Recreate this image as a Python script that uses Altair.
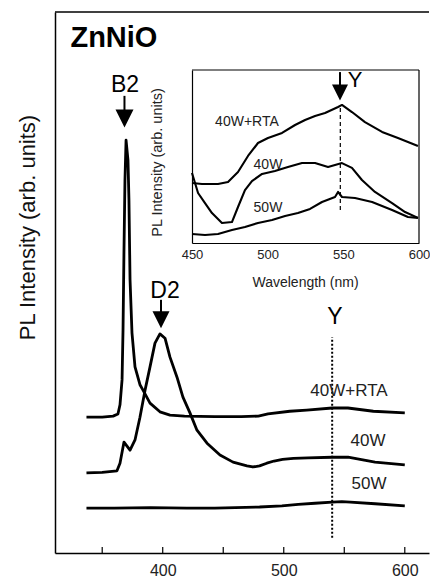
import altair as alt
import pandas as pd

FONT = "Liberation Sans"

# ---------------- main panel data ----------------
rta_wl = [337, 350, 359, 363, 364.7, 366.4, 367.2, 368.0, 368.8, 369.7, 371.3, 372.1, 373.0, 374.6,
          377.1, 381.2, 383.7, 389.5, 397.7, 406, 418, 443, 465, 479, 487, 505, 519, 540, 553, 574, 600]
rta_v = [25.1, 25.1, 25.3, 25.7, 27.4, 32.0, 41.2, 56.0, 68.9, 76.3, 72.6, 65.2, 50.5, 40.7,
         34.4, 31.1, 30.1, 27.7, 26.1, 25.5, 25.3, 25.2, 25.2, 25.3, 25.7, 26.2, 26.4, 26.8, 26.8, 26.2, 25.9]

w40_wl = [337, 350, 362.2, 364.7, 368.0, 373.0, 377.1, 381.2, 385.4, 389.5, 393.6, 397.7, 401.9,
          406.0, 411.8, 416.7, 422.5, 428.3, 436.6, 447.3, 458.1, 469.6, 474.5, 480, 486, 492, 499,
          508, 520.0, 539.9, 553.1, 575.4, 600]
w40_v = [14.8, 14.9, 15.2, 16.6, 20.5, 19.0, 20.9, 25.1, 30.1, 34.4, 38.8, 40.5, 39.7,
         36.2, 32.5, 28.8, 25.9, 22.7, 20.3, 18.1, 16.8, 16.1, 15.9, 16.1, 16.6, 17.0, 17.3,
         17.5, 17.6, 17.7, 17.7, 16.8, 16.3]

w50_wl = [337, 360, 390, 420, 443, 480, 498.5, 512, 525.8, 540, 548, 555, 575.4, 600]
w50_v = [8.3, 8.3, 8.4, 8.3, 8.3, 8.5, 8.7, 9.0, 9.2, 9.4, 9.5, 9.4, 9.1, 8.7]

main_ticks = [350, 400, 450, 500, 550, 600]
main_labels = [400, 500, 600]

# ---------------- inset data ----------------
in_rta_wl = [450, 456.6, 467.2, 473.8, 480.4, 487.0, 493.6, 500.2, 509.5, 518.1, 524.7, 531.3,
             537.9, 546.5, 549.1, 555.7, 564.3, 575.6, 586.1, 599.3]
in_rta_v = [34.7, 34.1, 34.1, 35.3, 41.0, 50.3, 57.8, 60.7, 63.6, 68.2, 71.1, 73.4,
            75.1, 78.6, 79.8, 75.7, 69.9, 64.2, 60.7, 56.1]

in_40_wl = [450, 454.0, 458.6, 463.2, 469.8, 476.4, 480.4, 485.0, 489.6, 496.3, 504.8, 513.4,
            522.7, 531.3, 539.9, 549.1, 555.7, 562.3, 570.9, 582.2, 590.8, 599.3]
in_40_v = [40.5, 28.9, 23.1, 17.3, 11.6, 12.1, 20.8, 30.6, 35.8, 39.9, 41.6, 43.9,
           46.2, 46.2, 43.9, 46.2, 43.4, 36.4, 29.5, 23.1, 17.9, 14.5]

in_50_wl = [450, 458.6, 467.2, 476.4, 485.0, 493.6, 502.9, 511.5, 520.0, 528.0, 535.9, 544.5,
            546.5, 549.1, 557.7, 569.0, 582.2, 592.7, 599.3]
in_50_v = [5.2, 4.6, 5.2, 7.5, 9.2, 11.6, 13.3, 15.6, 17.3, 19.7, 23.7, 26.6,
           29.5, 26.6, 26.0, 23.7, 19.1, 15.0, 14.5]

in_ticks = [450, 500, 550, 600]

series_names = ["40W+RTA", "40W", "50W"]

# ---------------- tables ----------------
def long(wls, vals):
    rows = []
    for name, w, v in zip(series_names, wls, vals):
        rows += [{"series": name, "wl": a, "v": b} for a, b in zip(w, v)]
    return pd.DataFrame(rows)

main_df = long([rta_wl, w40_wl, w50_wl], [rta_v, w40_v, w50_v])
inset_df = long([in_rta_wl, in_40_wl, in_50_wl], [in_rta_v, in_40_v, in_50_v])

W, H = 374, 541

def xs():
    return alt.Scale(domain=[311, 620], nice=False, zero=False)

def ys():
    return alt.Scale(domain=[0, 100], nice=False, zero=False)

def xi():
    return alt.Scale(domain=[450, 600], range=[137, 364], nice=False, zero=False)

def yi():
    return alt.Scale(domain=[0, 100], range=[231, 58], nice=False, zero=False)

# ---------------- main layers ----------------
main_lines = alt.Chart(main_df).mark_line(color="black", strokeWidth=2.8, strokeJoin="round").encode(
    x=alt.X("wl:Q", scale=xs(), axis=alt.Axis(
        orient="bottom", values=main_labels, ticks=False, tickSize=0, labelFontSize=16, labelPadding=9,
        labelFlush=False, labelColor="#222", labelFont=FONT, grid=False, title=None,
        domainColor="black", domainWidth=1.5)),
    y=alt.Y("v:Q", scale=ys(), axis=alt.Axis(
        orient="left", ticks=False, labels=False, grid=False, domainColor="black", domainWidth=1.5,
        title="PL Intensity (arb. units)", titleFont=FONT, titleFontSize=22,
        titleFontWeight="normal", titleColor="#111", titleAngle=270, titleX=-28, titleY=215,
        titleAlign="center", titleBaseline="middle")),
    detail="series:N",
)

tick_rules = alt.Chart(pd.DataFrame({"t": main_ticks})).mark_rule(color="black", strokeWidth=1.2).encode(
    x=alt.X("t:Q", scale=xs(), axis=None), y=alt.value(H - 6), y2=alt.value(H))

top_line = alt.Chart(pd.DataFrame({"a": [0]})).mark_rule(color="black", strokeWidth=1.5).encode(
    x=alt.value(0), x2=alt.value(W), y=alt.value(0))

dotted = alt.Chart(pd.DataFrame({"wl": [540], "v0": [2.8], "v1": [39.9]})).mark_rule(
    color="black", strokeWidth=2, strokeDash=[2, 2]).encode(
    x=alt.X("wl:Q", scale=xs(), axis=None), y=alt.Y("v0:Q", scale=ys(), axis=None), y2="v1:Q")

shafts = alt.Chart(pd.DataFrame({"wl": [368.4, 398.6], "v0": [81.5, 44.2], "v1": [84.5, 46.8]})).mark_rule(
    color="black", strokeWidth=2).encode(
    x=alt.X("wl:Q", scale=xs(), axis=None), y=alt.Y("v0:Q", scale=ys(), axis=None), y2="v1:Q")

heads = alt.Chart(pd.DataFrame({"wl": [368.4, 398.6], "v": [80.3, 43.1], "s": [324, 289]})).mark_point(
    shape="M-1,-1L1,-1L0,1Z", filled=True, color="black", opacity=1, strokeWidth=0).encode(
    x=alt.X("wl:Q", scale=xs(), axis=None), y=alt.Y("v:Q", scale=ys(), axis=None),
    size=alt.Size("s:Q", scale=None, legend=None))

title_txt = alt.Chart(pd.DataFrame({"wl": [359.7], "v": [95.2], "t": ["ZnNiO"]})).mark_text(
    font=FONT, fontSize=29, fontWeight="bold", color="black", baseline="middle").encode(
    x=alt.X("wl:Q", scale=xs(), axis=None), y=alt.Y("v:Q", scale=ys(), axis=None), text="t:N")

peak_txt = alt.Chart(pd.DataFrame({"wl": [368.8, 401.9, 542.3], "v": [86.5, 48.4, 43.6],
                                   "t": ["B2", "D2", "Y"]})).mark_text(
    font=FONT, fontSize=23, color="black", baseline="middle").encode(
    x=alt.X("wl:Q", scale=xs(), axis=None), y=alt.Y("v:Q", scale=ys(), axis=None), text="t:N")

series_txt = alt.Chart(pd.DataFrame({"wl": [553.9, 569.6, 570.4], "v": [29.9, 20.7, 12.8],
                                     "t": series_names})).mark_text(
    font=FONT, fontSize=17, color="#222", baseline="middle").encode(
    x=alt.X("wl:Q", scale=xs(), axis=None), y=alt.Y("v:Q", scale=ys(), axis=None), text="t:N")

# ---------------- inset layers ----------------
in_lines = alt.Chart(inset_df).mark_line(color="black", strokeWidth=2.1, strokeJoin="round").encode(
    x=alt.X("wl:Q", scale=xi(), axis=alt.Axis(
        orient="bottom", offset=-(H - 231), values=in_ticks, ticks=False, tickSize=0,
        labelFontSize=13, labelPadding=5, labelFlush=False, labelColor="#222", labelFont=FONT,
        grid=False, domainColor="black", domainWidth=1.2,
        title="Wavelength (nm)", titleFont=FONT, titleFontSize=14, titleFontWeight="normal",
        titleColor="#222", titleX=250, titleY=39, titleAlign="center", titleBaseline="middle")),
    y=alt.Y("v:Q", scale=yi(), axis=alt.Axis(
        orient="left", offset=-137, ticks=False, labels=False, grid=False,
        domainColor="black", domainWidth=1.2,
        title="PL Intensity (arb. units)", titleFont=FONT, titleFontSize=14.5,
        titleFontWeight="normal", titleColor="#222", titleAngle=270, titleX=-35, titleY=150,
        titleAlign="center", titleBaseline="middle")),
    detail="series:N",
)

frame = alt.Chart(pd.DataFrame({"x": [450, 600], "x2": [600, 600], "y": [100, 0], "y2": [100, 100]})).mark_rule(
    color="black", strokeWidth=1.2).encode(
    x=alt.X("x:Q", scale=xi(), axis=None), x2="x2:Q",
    y=alt.Y("y:Q", scale=yi(), axis=None), y2="y2:Q")

in_dash = alt.Chart(pd.DataFrame({"wl": [548], "v0": [19.1], "v1": [78.6]})).mark_rule(
    color="black", strokeWidth=1.2, strokeDash=[4, 3]).encode(
    x=alt.X("wl:Q", scale=xi(), axis=None), y=alt.Y("v0:Q", scale=yi(), axis=None), y2="v1:Q")

in_shaft = alt.Chart(pd.DataFrame({"wl": [547.8], "v0": [90.0], "v1": [98.8]})).mark_rule(
    color="black", strokeWidth=2).encode(
    x=alt.X("wl:Q", scale=xi(), axis=None), y=alt.Y("v0:Q", scale=yi(), axis=None), y2="v1:Q")

in_head = alt.Chart(pd.DataFrame({"wl": [547.8], "v": [87.0], "s": [256]})).mark_point(
    shape="M-1,-1L1,-1L0,1Z", filled=True, color="black", opacity=1, strokeWidth=0).encode(
    x=alt.X("wl:Q", scale=xi(), axis=None), y=alt.Y("v:Q", scale=yi(), axis=None),
    size=alt.Size("s:Q", scale=None, legend=None))

in_y = alt.Chart(pd.DataFrame({"wl": [557.7], "v": [94.2], "t": ["Y"]})).mark_text(
    font=FONT, fontSize=22, color="black", baseline="middle").encode(
    x=alt.X("wl:Q", scale=xi(), axis=None), y=alt.Y("v:Q", scale=yi(), axis=None), text="t:N")

in_txt = alt.Chart(pd.DataFrame({"wl": [486.3, 500.2, 500.2], "v": [69.9, 45.1, 20.2],
                                 "t": series_names})).mark_text(
    font=FONT, fontSize=14, color="#222", baseline="middle").encode(
    x=alt.X("wl:Q", scale=xi(), axis=None), y=alt.Y("v:Q", scale=yi(), axis=None), text="t:N")

chart = alt.layer(
    main_lines, tick_rules, top_line, dotted, shafts, heads, title_txt, peak_txt, series_txt,
    in_lines, frame, in_dash, in_shaft, in_head, in_y, in_txt,
).resolve_scale(
    x="independent", y="independent"
).resolve_axis(
    x="independent", y="independent"
).properties(
    width=W, height=H,
    autosize=alt.AutoSizeParams(type="none"),
    padding={"left": 55, "top": 12, "right": 1, "bottom": 26},
    background="white",
).configure_view(stroke=None)

chart.save("out.html", embed_options={"renderer": "svg", "actions": False})
